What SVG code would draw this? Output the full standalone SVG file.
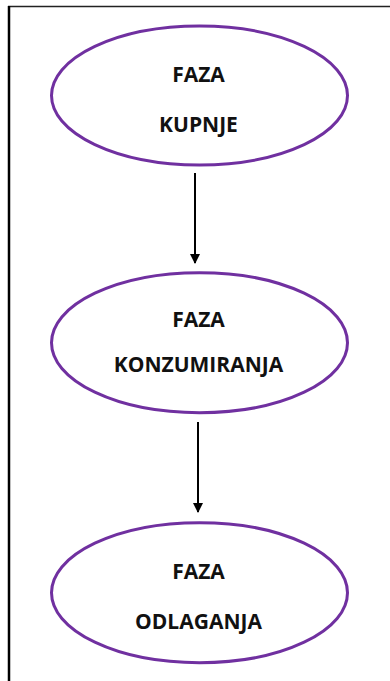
<svg xmlns="http://www.w3.org/2000/svg" width="390" height="681" viewBox="0 0 390 681">
<defs>
<style>
.node ellipse{fill:#ffffff;stroke:#7030A0;stroke-width:3}
.node text{font-family:"Open Sans","Liberation Sans",sans-serif;font-weight:bold;font-size:21px;fill:#111;text-anchor:middle}
.conn line{stroke:#000;stroke-width:2}
</style>
<marker id="arr" markerWidth="10" markerHeight="10" refX="9" refY="5" orient="auto" markerUnits="userSpaceOnUse" viewBox="0 0 10 10">
<path d="M0,0 L10,5 L0,10 Z" fill="#000"/>
</marker>
</defs>
<rect width="390" height="681" fill="#ffffff"/>
<g id="frame">
<line x1="8" y1="6.5" x2="390" y2="6.5" stroke="#222" stroke-width="1.5"/>
<line x1="9" y1="6" x2="9" y2="681" stroke="#000" stroke-width="2.5"/>
</g>
<g id="node1" class="node">
<ellipse cx="199.5" cy="95.5" rx="148" ry="69.5"/>
<text x="198.5" y="82">FAZA</text>
<text x="198.5" y="132">KUPNJE</text>
</g>
<g id="node2" class="node">
<ellipse cx="199.5" cy="342.7" rx="148" ry="70"/>
<text x="198.5" y="327">FAZA</text>
<text x="198.5" y="371.5">KONZUMIRANJA</text>
</g>
<g id="node3" class="node">
<ellipse cx="199.5" cy="592.7" rx="148" ry="70"/>
<text x="198.5" y="579">FAZA</text>
<text x="198.5" y="629">ODLAGANJA</text>
</g>
<g id="connectors" class="conn">
<line x1="195" y1="173" x2="195" y2="263" marker-end="url(#arr)"/>
<line x1="198" y1="422" x2="198" y2="512" marker-end="url(#arr)"/>
</g>
</svg>
